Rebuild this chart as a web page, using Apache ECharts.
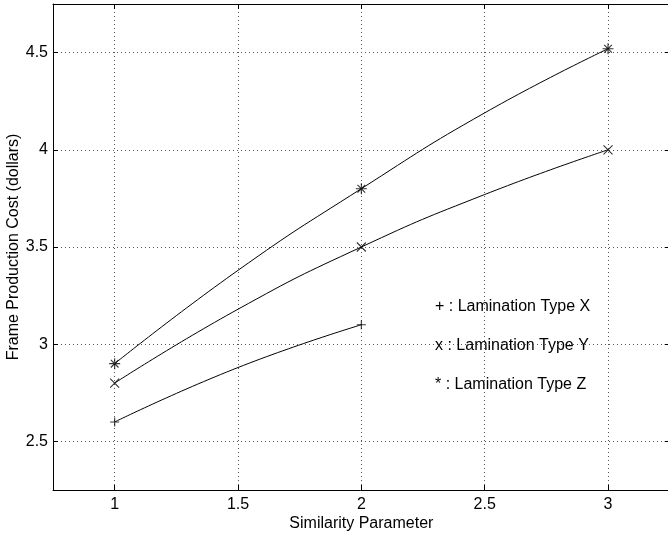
<!DOCTYPE html>
<html>
<head>
<meta charset="utf-8">
<script src="https://cdn.jsdelivr.net/npm/echarts@6/dist/echarts.min.js"></script>
<style>html,body{margin:0;padding:0;background:#fff}#c{width:668px;height:535px}</style>
</head>
<body>
<div id="c"></div>
<script>
// Measured marker data
const xCats = [1, 2, 3];
const typeX = [2.6, 3.1];
const typeY = [2.8, 3.5, 4.0];
const typeZ = [2.9, 3.8, 4.52];
// Curve points
const curveXPos = [1, 1.5, 2];
const curveXVal = [2.6, 2.88, 3.1];
const curveYZPos = [1, 1.5, 2, 2.5, 3];
const curveYVal = [2.8, 3.18, 3.5, 3.77, 4.0];
const curveZVal = [2.9, 3.38, 3.8, 4.19, 4.52];
const legendTexts = ['+ : Lamination Type X', 'x : Lamination Type Y', '* : Lamination Type Z'];
const xName = 'Similarity Parameter';
const yName = 'Frame Production Cost (dollars)';

const FONT = 'Liberation Sans, Arial, Helvetica, sans-serif';
const zip = (xs, ys) => ys.map((v, i) => [xs[i], v]);

const plusPath = 'path://M5,0 L5,10 M0,5 L10,5';
const crossPath = 'path://M0,0 L10,10 M0,10 L10,0';
const starPath = 'path://M5,0 L5,10 M0,5 L10,5 M1.5,1.5 L8.5,8.5 M1.5,8.5 L8.5,1.5';

const markerStyle = {color: 'none', borderColor: '#000', borderWidth: 1.1};
const curveStyle = {color: '#000', width: 1};

const chart = echarts.init(document.getElementById('c'), null, {renderer: 'canvas'});
const gridLine = {show: true, showMinLine: false, showMaxLine: false, lineStyle: {color: '#555', type: [1, 3], width: 1}};
const xBase = {type: 'value', min: 0.75, max: 3.25, minInterval: 0.5, maxInterval: 0.5};
const yBase = {type: 'value', min: 2.25, max: 4.75, minInterval: 0.5, maxInterval: 0.5};
const lineAx = {show: true, lineStyle: {color: '#000', width: 1}};
const tickAx = {show: true, inside: true, length: 5, lineStyle: {color: '#000', width: 1}};

chart.setOption({
  animation: false,
  backgroundColor: '#fff',
  grid: {left: 53, top: 4, width: 616.7, height: 486, containLabel: false, outerBoundsMode: 'none'},
  xAxis: [
    Object.assign({}, xBase, {
      position: 'bottom',
      name: xName, nameLocation: 'middle', nameGap: 26, nameMoveOverlap: false,
      nameTextStyle: {fontFamily: FONT, fontSize: 16, color: '#000'},
      axisLine: lineAx, axisTick: tickAx,
      axisLabel: {show: true, showMinLabel: false, showMaxLabel: false, margin: 7, fontFamily: FONT, fontSize: 16, color: '#000'},
      splitLine: gridLine
    }),
    Object.assign({}, xBase, {
      position: 'top', axisLine: lineAx, axisTick: tickAx,
      axisLabel: {show: false}, splitLine: {show: false}
    })
  ],
  yAxis: [
    Object.assign({}, yBase, {
      position: 'left',
      name: yName, nameLocation: 'middle', nameGap: 31, nameMoveOverlap: false,
      nameTextStyle: {fontFamily: FONT, fontSize: 16, color: '#000'},
      axisLine: lineAx, axisTick: tickAx,
      axisLabel: {show: true, showMinLabel: false, showMaxLabel: false, margin: 5, fontFamily: FONT, fontSize: 16, color: '#000'},
      splitLine: gridLine
    }),
    Object.assign({}, yBase, {
      position: 'right', axisLine: lineAx, axisTick: tickAx,
      axisLabel: {show: false}, splitLine: {show: false}
    })
  ],
  series: [
    {type: 'line', data: zip(curveXPos, curveXVal), smooth: true, showSymbol: false, lineStyle: curveStyle, silent: true},
    {type: 'line', data: zip(curveYZPos, curveYVal), smooth: true, showSymbol: false, lineStyle: curveStyle, silent: true},
    {type: 'line', data: zip(curveYZPos, curveZVal), smooth: true, showSymbol: false, lineStyle: curveStyle, silent: true},
    {type: 'scatter', data: zip(xCats, typeX), symbol: plusPath, symbolSize: 9, itemStyle: markerStyle, z: 5},
    {type: 'scatter', data: zip(xCats, typeY), symbol: crossPath, symbolSize: 9, itemStyle: markerStyle, z: 5},
    {type: 'scatter', data: zip(xCats, typeZ), symbol: starPath, symbolSize: 11, itemStyle: markerStyle, z: 5}
  ],
  graphic: legendTexts.map((t, i) => ({
    type: 'text', left: 435, top: 299 + i * 39,
    style: {text: t, font: '16px ' + FONT, fill: '#000'}
  }))
});
</script>
</body>
</html>
